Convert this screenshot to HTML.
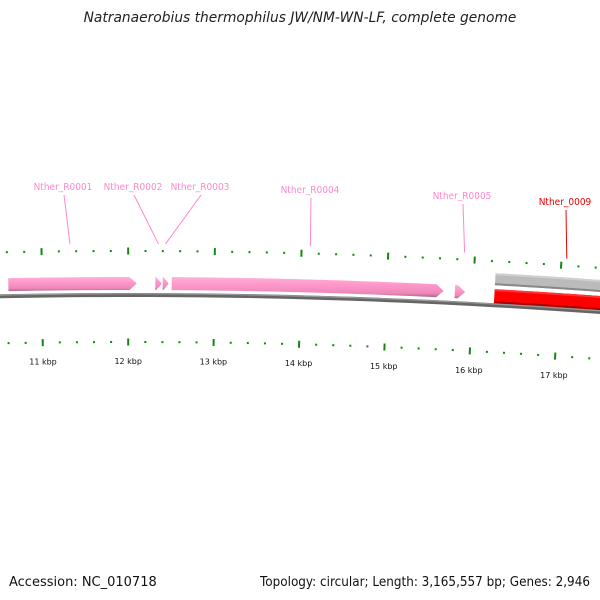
<!DOCTYPE html>
<html><head><meta charset="utf-8"><style>
body{margin:0;background:#fff}
svg{display:block;font-family:"DejaVu Sans","Liberation Sans",sans-serif}
</style></head><body>
<svg id="c" width="600" height="600" viewBox="0 0 600 600">
<defs>
<linearGradient id="gp" x1="0" y1="0" x2="0" y2="1"><stop offset="0" stop-color="#ffb0d8"/><stop offset="0.35" stop-color="#ff99cc"/><stop offset="0.8" stop-color="#ee88bb"/><stop offset="1" stop-color="#aa6688"/></linearGradient>
</defs>
<text x="300" y="22" text-anchor="middle" font-size="13.8" font-style="italic" fill="#222">Natranaerobius thermophilus JW/NM-WN-LF, complete genome</text>
<text x="9" y="586" font-size="13" fill="#111">Accession: NC_010718</text>
<text x="260" y="586" textLength="330" lengthAdjust="spacingAndGlyphs" font-size="13" fill="#111">Topology: circular; Length: 3,165,557 bp; Genes: 2,946</text>
<g id="g"></g>
</svg>
<script>
const tickStart=10400, tickEnd=18000, tickStep=200;
const kbpLabels=[11,12,13,14,15,16,17];
const geneNames=["Nther_R0001","Nther_R0002","Nther_R0003","Nther_R0004","Nther_R0005","Nther_0009","Nther_0009b"];
const geneStart=[10610,12315,12400,12505,15790,16250,16250];
const geneEnd=[12100,12390,12470,15660,15910,17700,17700];
const geneLane=[0,0,0,0,0,1,2];
const geneColor=["pink","pink","pink","pink","pink","gray","red"];
const labelX=[63,133,200,310,462,565];
const labelY=[190,190,190,193,199,205];
const anchors=[11330,12350,12430,14100,15880,17060];

const NS="http://www.w3.org/2000/svg";
const G=document.getElementById('g');
const R0=6500, CX=130, CY=296+R0;
function bpX(bp){return 43+(bp-11000)*0.0852;}
function pt(bp,dr){const t=(bpX(bp)-CX)/(R0-65), r=R0+dr;return [CX+r*Math.sin(t),CY-r*Math.cos(t)];}
function mk(tag,attrs,name,parent){const e=document.createElementNS(NS,tag);for(const k in attrs)e.setAttribute(k,attrs[k]);


(parent||G).appendChild(e);return e;}
function arcPath(b1,b2,dr){let d="";for(let b=b1;b<=b2+1e-6;b+=(b2-b1)/40){const p=pt(b,dr);d+=(d?"L":"M")+p[0].toFixed(2)+","+p[1].toFixed(2);}return d;}
// backbone
mk('path',{d:arcPath(10300,18200,1),stroke:'#666',"stroke-width":4,fill:'none'},'backbone');
mk('path',{d:arcPath(10300,18200,2.2),stroke:'#999',"stroke-width":1.2,fill:'none'},'backbone-highlight');
// ticks
for(let b=tickStart;b<=tickEnd;b+=tickStep){
 const major=b%1000===0, L=major?3.5:1;
 let a=pt(b,45+L),c=pt(b,45-L);
 mk('line',{x1:a[0],y1:a[1],x2:c[0],y2:c[1],stroke:'#118811',"stroke-width":2},'upper-tick');
 a=pt(b,-46+L);c=pt(b,-46-L);
 mk('line',{x1:a[0],y1:a[1],x2:c[0],y2:c[1],stroke:'#118811',"stroke-width":2},'lower-tick');
}
kbpLabels.forEach(k=>{const p=pt(k*1000,-65);const t=mk('text',{x:p[0],y:p[1]+3,"text-anchor":"middle","font-size":8,fill:'#111'},'kbp-label');t.textContent=k+" kbp";});
// genes
geneStart.forEach((s,i)=>{
 const e=geneEnd[i]; const lane=geneLane[i];
 const lo=lane===1?21:(lane===2?3:6), hi=lane===1?33:(lane===2?17:19);
 const col=geneColor[i];
 if(col==='pink'){
  const head=Math.min(85,(e-s)*0.9);
  const p2=pt(e,(lo+hi)/2),p3=pt(e-head,lo);
  let d=arcPath(s,e-head,hi)+"L"+p2[0]+","+p2[1]+"L"+p3[0]+","+p3[1];
  let dd=arcPath(s,e-head,lo).slice(1).split("L").reverse().join("L");
  d+="L"+dd+"Z";
  mk('path',{d:d,fill:'url(#gp)'},'gene-'+geneNames[i].toLowerCase());
 } else {
  const fill=col==='red'?'#ff0000':'#bbbbbb', edge=col==='red'?'#aa0000':'#888';
  const mid=(lo+hi)/2;
  mk('path',{d:arcPath(s,e+300,mid),stroke:fill,"stroke-width":hi-lo,fill:'none'},'gene-'+col);
  mk('path',{d:arcPath(s,e+300,lo+1),stroke:edge,"stroke-width":2,fill:'none'},'gene-edge');
  mk('path',{d:arcPath(s,e+300,hi-1),stroke:col==='red'?'#ff3333':'#d0d0d0',"stroke-width":2,fill:'none'},'gene-top');
 }
});
// labels
labelX.forEach((x,i)=>{
 const red=i===5; const col=red?'#ee0000':'#ff88cc';
 const a=pt(anchors[i],52);
 mk('line',{x1:x+1,y1:labelY[i]+5,x2:a[0],y2:a[1],stroke:col,"stroke-width":1},'label-leader');
 const t=mk('text',{x:x,y:labelY[i],"text-anchor":"middle","font-size":10,fill:col,"font-stretch":"condensed",style:'font-family:"DejaVu Sans Condensed","DejaVu Sans",sans-serif'},'gene-label');
 t.textContent=geneNames[i];
});
</script>
</body></html>
